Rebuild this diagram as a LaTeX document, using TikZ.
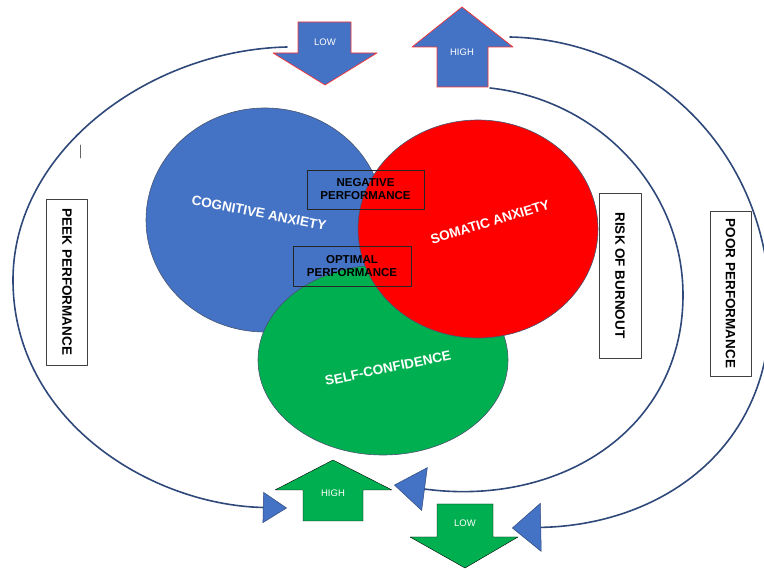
\documentclass[tikz,border=0pt]{standalone}
\usepackage{fontspec}
\setmainfont{Liberation Sans}
\usetikzlibrary{arrows.meta}

\definecolor{ovalblue}{RGB}{68,114,196}
\definecolor{ovalred}{RGB}{255,0,0}
\definecolor{ovalgreen}{RGB}{0,176,80}
\definecolor{loopnavy}{RGB}{47,72,122}
\definecolor{rimgray}{RGB}{70,84,112}

\begin{document}
\begin{tikzpicture}[x=1pt, y=-1pt, line cap=round, line join=round]
  \tikzset{
    oval/.style={draw=rimgray, line width=0.6pt},
    ovaltext/.style={text=white, font=\bfseries\fontsize{13.5}{15}\selectfont},
    framebox/.style={draw=black!85, line width=0.9pt, align=center, inner sep=0pt,
      font=\bfseries\fontsize{11.5}{13}\selectfont},
    sidebox/.style={draw=black!75, line width=0.8pt, rotate=-90, minimum width=166,
      minimum height=41, font=\bfseries\fontsize{13.5}{15}\selectfont},
    blockblue/.style={fill=ovalblue, draw=ovalred!80, line width=0.7pt},
    blockgreen/.style={fill=ovalgreen},
    tagtext/.style={text=white, font=\fontsize{9.5}{11}\selectfont},
    loop/.style={draw=loopnavy, line width=1.6pt}
  }
  \useasboundingbox (0,0) rectangle (764,569);

  % ba hình bầu dục
  \draw[oval, fill=ovalblue] (265,220) ellipse [x radius=119, y radius=112];
  \draw[oval, fill=ovalgreen] (383,360) ellipse [x radius=125, y radius=95];
  \draw[oval, fill=ovalred] (478,229) ellipse [x radius=120, y radius=109];

  \node[ovaltext, rotate=-11] (cogtext) at (259,213) {COGNITIVE ANXIETY};
  \node[ovaltext, rotate=17] (somtext) at (490,222) {SOMATIC ANXIETY};
  \node[ovaltext, rotate=12] (conftext) at (388,368) {SELF-CONFIDENCE};

  % ô chữ ở giữa
  \node[framebox, minimum width=117, minimum height=39] (negative) at (365.5,189.5)
    {NEGATIVE\\PERFORMANCE};
  \node[framebox, minimum width=118, minimum height=40] (optimal) at (352,266)
    {OPTIMAL\\PERFORMANCE};

  % ô chữ dọc
  \node[sidebox] (peek) at (67,282) {PEEK PERFORMANCE};
  \node[sidebox, minimum height=42, minimum width=165] (burnout) at (620,275.5) {RISK OF BURNOUT};
  \node[sidebox, minimum width=165] (poor) at (730.5,293.5) {POOR PERFORMANCE};

  \draw[black!60, line width=0.8pt] (80,145) -- (80,158);

  % mũi tên khối phía trên
  \draw[blockblue] (298,22) -- (351,22) -- (351,53) -- (377,53) -- (325,85)
    -- (273,53) -- (298,53) -- cycle;
  \node[tagtext] (lowtop) at (325,42) {LOW};
  \draw[blockblue] (462,7) -- (513,47) -- (488,47) -- (488,87) -- (437,87)
    -- (437,47) -- (412,47) -- cycle;
  \node[tagtext] (hightop) at (462,52) {HIGH};

  % mũi tên khối phía dưới
  \draw[blockgreen] (333,460) -- (392,490) -- (363,490) -- (363,521) -- (303,521)
    -- (303,490) -- (275,490) -- cycle;
  \node[tagtext] (highbottom) at (333,493) {HIGH};
  \draw[blockgreen] (437,504) -- (493,504) -- (493,537) -- (518,537) -- (465,568)
    -- (410,537) -- (437,537) -- cycle;
  \node[tagtext] (lowbottom) at (465,523) {LOW};

  % các đường cong
  \coordinate (peekstart) at (287,47);
  \coordinate (peekleft) at (13,280);
  \coordinate (peekend) at (287,508);
  \coordinate (burnstart) at (490,88);
  \coordinate (burnright) at (683,295);
  \coordinate (burnend) at (394,485);
  \coordinate (poorstart) at (510,37);
  \coordinate (poorright) at (770,310);
  \coordinate (poorend) at (512,528);

  \draw[loop, -{Triangle[length=24pt, width=31pt, fill=ovalblue, line width=0.5pt]}]
    (peekstart) .. controls (150,50) and (13,150) .. (peekleft)
    .. controls (13,420) and (150,505) .. (peekend);
  \draw[loop, -{Triangle[length=31pt, width=44pt, fill=ovalblue, line width=0.5pt]}]
    (burnstart) .. controls (600,100) and (683,190) .. (burnright)
    .. controls (683,430) and (560,507) .. (burnend);
  \draw[loop, -{Triangle[length=29pt, width=49pt, fill=ovalblue, line width=0.5pt]}]
    (poorstart) .. controls (650,40) and (770,150) .. (poorright)
    .. controls (770,450) and (660,525) .. (poorend);
\end{tikzpicture}
\end{document}
